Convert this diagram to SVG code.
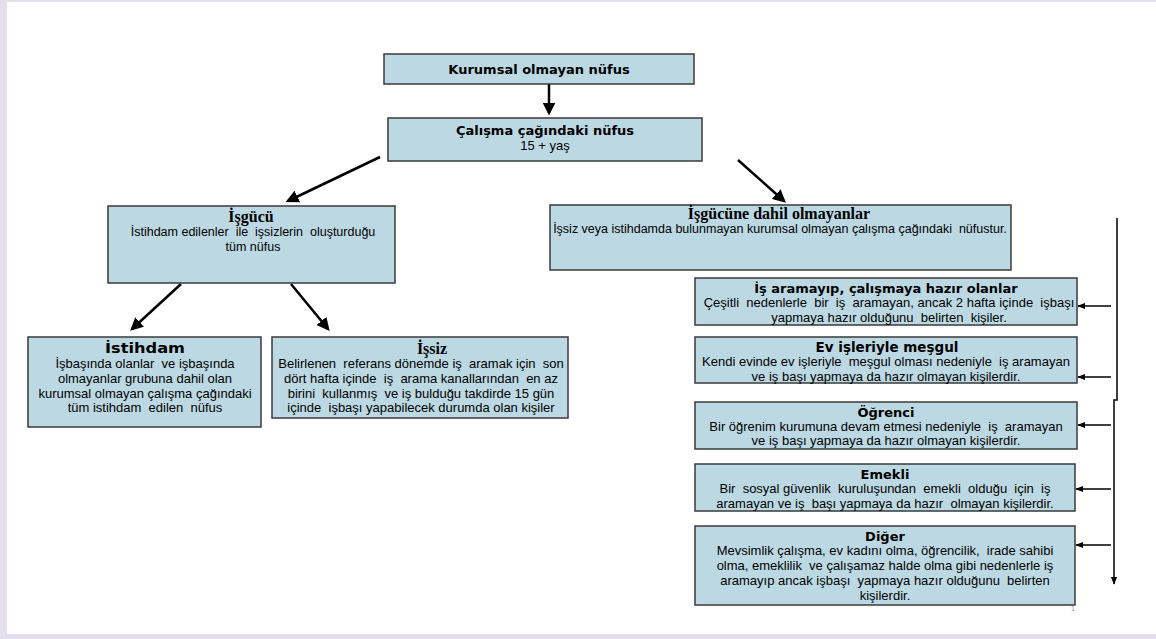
<svg xmlns="http://www.w3.org/2000/svg" width="1156" height="639" viewBox="0 0 1156 639">
<style>
.box{fill:#bcd9e3;stroke:#3a3a3a;stroke-width:1.5}
.t{font-family:"DejaVu Sans",Verdana,sans-serif;font-weight:bold;font-size:13px;fill:#000;text-anchor:middle}
.ts{font-family:"Liberation Serif","Times New Roman",serif;font-weight:bold;font-size:16px;fill:#000;text-anchor:middle}
.b{font-family:"Liberation Sans",Arial,sans-serif;font-size:13px;fill:#000;text-anchor:middle;white-space:pre}
.b2{font-family:"Liberation Sans",Arial,sans-serif;font-size:12.5px;fill:#000;text-anchor:middle;white-space:pre}
.c{stroke:#000;fill:none}
</style>
<defs>
<marker id="ah" viewBox="0 0 10 10" refX="8" refY="5" markerWidth="13" markerHeight="13" orient="auto" markerUnits="userSpaceOnUse">
<path d="M0,0 L10,5 L0,10 z" fill="#000"/>
</marker>
<marker id="ah2" viewBox="0 0 10 10" refX="9" refY="5" markerWidth="8" markerHeight="8" orient="auto" markerUnits="userSpaceOnUse">
<path d="M0,1 L10,5 L0,9 z" fill="#000"/>
</marker>
</defs>
<rect x="0" y="0" width="1156" height="639" fill="#e4dfec"/>
<rect x="7" y="2" width="1149" height="632" fill="#ffffff"/>

<g id="connectors">
<line class="c" x1="549" y1="84" x2="549" y2="113" stroke-width="2.5" marker-end="url(#ah)"/>
<line class="c" x1="380" y1="157" x2="288" y2="201" stroke-width="2.5" marker-end="url(#ah)"/>
<line class="c" x1="738" y1="160" x2="784" y2="201" stroke-width="2.5" marker-end="url(#ah)"/>
<line class="c" x1="181" y1="284" x2="132" y2="329" stroke-width="2.5" marker-end="url(#ah)"/>
<line class="c" x1="291" y1="284" x2="328" y2="329" stroke-width="2.5" marker-end="url(#ah)"/>
<path class="c" d="M1117,218 V400 H1114 V584" stroke-width="1.5" marker-end="url(#ah2)"/>
<line class="c" x1="1111" y1="306" x2="1078" y2="306" stroke-width="1.5" marker-end="url(#ah2)"/>
<line class="c" x1="1111" y1="377" x2="1078" y2="377" stroke-width="1.5" marker-end="url(#ah2)"/>
<line class="c" x1="1111" y1="425" x2="1078" y2="425" stroke-width="1.5" marker-end="url(#ah2)"/>
<line class="c" x1="1111" y1="489" x2="1076" y2="489" stroke-width="1.5" marker-end="url(#ah2)"/>
<line class="c" x1="1111" y1="545" x2="1076" y2="545" stroke-width="1.5" marker-end="url(#ah2)"/>
</g>

<g id="kurumsal">
<rect class="box" x="384" y="54" width="310" height="30"/>
<text class="t" x="539" y="74">Kurumsal olmayan nüfus</text>
</g>

<g id="calisma">
<rect class="box" x="388" y="118" width="314" height="43"/>
<text class="t" x="545" y="135">Çalışma çağındaki nüfus</text>
<text class="b" x="545" y="150">15 + yaş</text>
</g>

<g id="isgucu">
<rect class="box" x="108" y="206" width="287" height="77"/>
<text class="ts" x="251" y="222">İşgücü</text>
<text class="b2" x="253" y="236">İstihdam edilenler  ile  işsizlerin  oluşturduğu</text>
<text class="b2" x="253" y="251">tüm nüfus</text>
</g>

<g id="istihdam">
<rect class="box" x="28" y="337" width="233" height="90"/>
<text class="t" x="145" y="353" style="font-size:14px" textLength="80" lengthAdjust="spacingAndGlyphs">İstihdam</text>
<text class="b" x="145" y="368">İşbaşında olanlar  ve işbaşında</text>
<text class="b" x="145" y="383">olmayanlar grubuna dahil olan</text>
<text class="b" x="145" y="398">kurumsal olmayan çalışma çağındaki</text>
<text class="b" x="145" y="412">tüm istihdam  edilen  nüfus</text>
</g>

<g id="issiz">
<rect class="box" x="272" y="337" width="296" height="81"/>
<text class="ts" x="432" y="354">İşsiz</text>
<text class="b" x="421" y="368">Belirlenen  referans dönemde iş  aramak için  son</text>
<text class="b" x="421" y="383">dört hafta içinde  iş  arama kanallarından  en az</text>
<text class="b" x="421" y="398">birini  kullanmış  ve iş bulduğu takdirde 15 gün</text>
<text class="b" x="421" y="412">içinde  işbaşı yapabilecek durumda olan kişiler</text>
</g>

<g id="isgucune-dahil-olmayanlar">
<rect class="box" x="550" y="205" width="461" height="65"/>
<text class="ts" x="779" y="219">İşgücüne dahil olmayanlar</text>
<text class="b2" x="780" y="233">İşsiz veya istihdamda bulunmayan kurumsal olmayan çalışma çağındaki  nüfustur.</text>
</g>

<g id="is-aramayip">
<rect class="box" x="695" y="278" width="382" height="47"/>
<text class="t" x="886" y="293">İş aramayıp, çalışmaya hazır olanlar</text>
<text class="b" x="889" y="307">Çeşitli  nedenlerle  bir  iş  aramayan, ancak 2 hafta içinde  işbaşı</text>
<text class="b" x="889" y="322">yapmaya hazır olduğunu  belirten  kişiler.</text>
</g>

<g id="ev-isleri">
<rect class="box" x="695" y="337" width="382" height="46"/>
<text class="t" x="887" y="352" style="font-size:13.5px">Ev işleriyle meşgul</text>
<text class="b" x="886" y="366">Kendi evinde ev işleriyle  meşgul olması nedeniyle  iş aramayan</text>
<text class="b" x="886" y="381">ve iş başı yapmaya da hazır olmayan kişilerdir.</text>
</g>

<g id="ogrenci">
<rect class="box" x="695" y="402" width="382" height="47"/>
<text class="t" x="886" y="417">Öğrenci</text>
<text class="b" x="886" y="431">Bir öğrenim kurumuna devam etmesi nedeniyle  iş  aramayan</text>
<text class="b" x="886" y="445">ve iş başı yapmaya da hazır olmayan kişilerdir.</text>
</g>

<g id="emekli">
<rect class="box" x="695" y="464" width="380" height="47"/>
<text class="t" x="885" y="479">Emekli</text>
<text class="b" x="885" y="493">Bir  sosyal güvenlik  kuruluşundan  emekli  olduğu  için  iş</text>
<text class="b" x="885" y="508">aramayan ve iş  başı yapmaya da hazır  olmayan kişilerdir.</text>
</g>

<g id="diger">
<rect class="box" x="695" y="526" width="380" height="79"/>
<text class="t" x="885" y="541">Diğer</text>
<text class="b" x="885" y="555">Mevsimlik çalışma, ev kadını olma, öğrencilik,  irade sahibi</text>
<text class="b" x="885" y="570">olma, emeklilik  ve çalışamaz halde olma gibi nedenlerle iş</text>
<text class="b" x="885" y="585">aramayıp ancak işbaşı  yapmaya hazır olduğunu  belirten</text>
<text class="b" x="885" y="600">kişilerdir.</text>
</g>

<text x="1071" y="611" font-family="Liberation Sans,Arial,sans-serif" font-size="7" fill="#999">1</text>
</svg>
